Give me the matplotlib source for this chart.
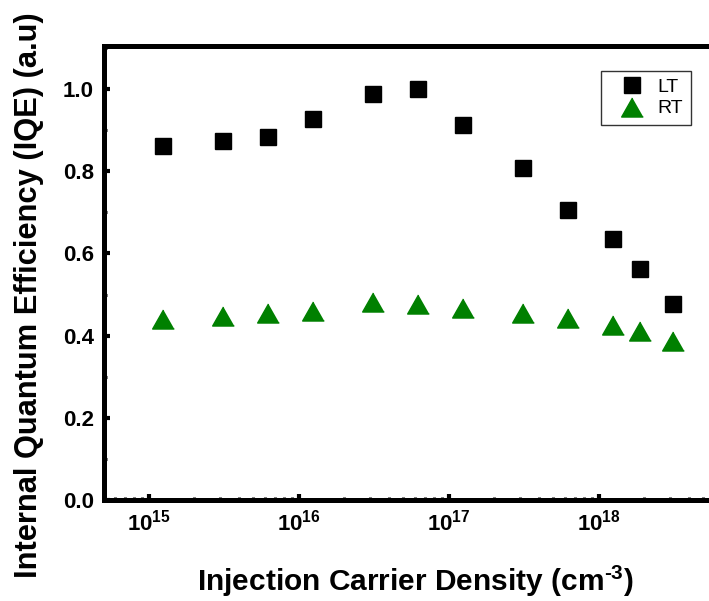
import matplotlib
matplotlib.use("Agg")
import matplotlib.pyplot as plt
import numpy as np
from matplotlib.ticker import LogLocator, MultipleLocator

plt.rcParams['font.family'] = ['Liberation Sans', 'DejaVu Sans']
plt.rcParams['mathtext.fontset'] = 'custom'
plt.rcParams['mathtext.rm'] = 'Liberation Sans:bold'
plt.rcParams['mathtext.bf'] = 'Liberation Sans:bold'
plt.rcParams['mathtext.it'] = 'Liberation Sans:bold'

density = [1.25e15, 3.125e15, 6.25e15, 1.25e16, 3.125e16, 6.25e16,
           1.25e17, 3.125e17, 6.25e17, 1.25e18, 1.875e18, 3.125e18]
iqe_lt = [0.862, 0.874, 0.883, 0.927, 0.988, 1.0, 0.913, 0.809, 0.707, 0.635, 0.563, 0.478]
iqe_rt = [0.441, 0.448, 0.455, 0.460, 0.483, 0.476, 0.467, 0.456, 0.444, 0.425, 0.412, 0.386]
x_ticks = [1e15, 1e16, 1e17, 1e18]
x_tick_labels = [r'$\mathregular{10^{15}}$', r'$\mathregular{10^{16}}$',
                 r'$\mathregular{10^{17}}$', r'$\mathregular{10^{18}}$']
y_ticks = [0.0, 0.2, 0.4, 0.6, 0.8, 1.0]

fig = plt.figure(figsize=(7.09, 6.01), dpi=100)
ax = fig.add_axes([103.5/709, 101/601, 608.5/709, 454/601])

tri = [(0, 0.88), (-1, -0.88), (1, -0.88)]
ax.plot(density, iqe_lt, linestyle='none', marker='s', ms=11.5, color='black',
        mec='black', label='LT')
ax.plot(density, iqe_rt, linestyle='none', marker=tri, ms=15.6, color='green',
        mec='green', label='RT')

ax.set_xscale('log')
ax.set_xlim(5.0e14, 5.7e18)
ax.set_ylim(0, 1.105)

ax.set_xticks(x_ticks)
ax.set_xticklabels(x_tick_labels)
ax.xaxis.set_minor_locator(LogLocator(base=10, subs=np.arange(2, 10)))
ax.xaxis.set_minor_formatter(plt.NullFormatter())
ax.set_yticks(y_ticks)
ax.set_yticklabels([f'{v:.1f}' for v in y_ticks])
ax.yaxis.set_minor_locator(MultipleLocator(0.1))

for s in ax.spines.values():
    s.set_linewidth(3.6)

ax.tick_params(which='major', direction='in', length=4.5, width=3,
               labelsize=16, top=False, right=False, pad=7)
ax.tick_params(which='minor', direction='in', length=2, width=2.2,
               top=False, right=False)
for lab in ax.get_yticklabels() + ax.get_xticklabels():
    lab.set_fontweight('bold')

ax.set_xlabel('Injection Carrier Density (cm$^{\\text{-3}}$)', fontsize=21.5,
              fontweight='bold', labelpad=20)
ax.xaxis.label.set_x(0.5127)
ax.set_ylabel('Internal Quantum Efficiency (IQE) (a.u)', fontsize=22.2,
              fontweight='bold')
ax.yaxis.set_label_coords(-0.0986, 0.4504)

leg = ax.legend(loc='upper right', bbox_to_anchor=(0.9655, 0.946), fontsize=14,
                frameon=True, fancybox=False, edgecolor='black',
                handletextpad=0.11, borderpad=0.4, labelspacing=0.2,
                handlelength=2.4, borderaxespad=0)
leg.get_frame().set_linewidth(1)

fig.savefig('out.png', dpi=100)
